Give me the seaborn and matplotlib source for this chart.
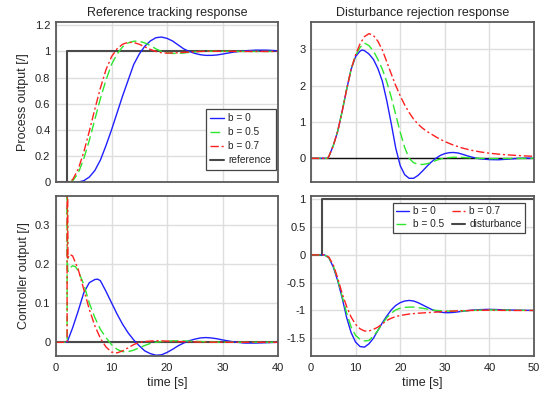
import numpy as np
import pandas as pd
import matplotlib
matplotlib.use("Agg")
import matplotlib.pyplot as plt
from matplotlib.ticker import MultipleLocator, FuncFormatter, AutoMinorLocator
import seaborn as sns

# ---------------- data ----------------
labels = ["b = 0", "b = 0.5", "b = 0.7"]

# Reference tracking: process output
rt_t_b0 = [0, 2, 3, 4, 5, 6, 7, 8, 9, 10, 11, 12, 13, 14, 15, 16, 17, 18, 19, 20, 21, 22, 23, 24,
           25, 26, 27, 28, 29, 30, 32, 34, 36, 38, 40]
rt_y_b0 = [0, 0, 0.0, 0.002, 0.012, 0.04, 0.09, 0.17, 0.28, 0.4, 0.53, 0.66, 0.78, 0.9, 0.98, 1.04,
           1.08, 1.105, 1.11, 1.1, 1.08, 1.05, 1.02, 1.0, 0.985, 0.975, 0.97, 0.97, 0.973, 0.98,
           0.995, 1.005, 1.01, 1.01, 1.005]
rt_t_b05 = [0, 2, 3, 4, 5, 6, 7, 8, 9, 10, 11, 12, 13, 14, 15, 16, 17, 18, 19, 20, 21, 22, 23, 24,
            26, 28, 30, 34, 40]
rt_y_b05 = [0, 0, 0.01, 0.07, 0.18, 0.32, 0.48, 0.64, 0.78, 0.9, 0.98, 1.035, 1.065, 1.078, 1.078,
            1.065, 1.045, 1.02, 1.0, 0.99, 0.985, 0.985, 0.988, 0.993, 1.0, 1.002, 1.001, 1.0, 1.0]
rt_t_b07 = [0, 2, 3, 4, 5, 6, 7, 8, 9, 10, 11, 12, 13, 14, 15, 16, 17, 18, 19, 20, 22, 24, 26, 28,
            30, 34, 40]
rt_y_b07 = [0, 0, 0.02, 0.1, 0.23, 0.39, 0.56, 0.72, 0.86, 0.96, 1.02, 1.055, 1.07, 1.068, 1.055,
            1.035, 1.015, 1.0, 0.99, 0.987, 0.99, 0.995, 1.0, 1.002, 1.001, 1.0, 1.0]
ref_t = [0, 2, 2, 40]
ref_y = [0, 0, 1, 1]

# Reference tracking: controller output
ru_t_b0 = [0, 2, 3, 4, 5, 6, 7, 7.5, 8, 9, 10, 11, 12, 13, 14, 15, 16, 17, 18, 19, 20, 21, 22, 23,
           24, 25, 26, 27, 28, 29, 30, 32, 34, 36, 38, 40]
ru_y_b0 = [0, 0, 0.037, 0.08, 0.126, 0.152, 0.16, 0.161, 0.157, 0.13, 0.101, 0.072, 0.046, 0.024,
           0.006, -0.009, -0.022, -0.029, -0.033, -0.032, -0.026, -0.018, -0.009, -0.002, 0.004,
           0.008, 0.011, 0.012, 0.011, 0.009, 0.006, 0.001, -0.002, -0.002, -0.001, 0.0]
ru_t_b05 = [0, 2, 2, 2.1, 2.5, 3, 3.5, 4, 5, 6, 7, 8, 9, 10, 11, 12, 13, 14, 15, 16, 17, 18, 19, 20,
            22, 24, 26, 30, 40]
ru_y_b05 = [0, 0, 0.6, 0.18, 0.19, 0.195, 0.193, 0.182, 0.148, 0.1, 0.063, 0.033, 0.012, -0.006,
            -0.018, -0.024, -0.024, -0.02, -0.014, -0.008, -0.003, 0.0, 0.002, 0.003, 0.004, 0.003,
            0.002, 0.0, 0.0]
ru_t_b07 = [0, 2, 2, 2.15, 2.5, 3, 4, 5, 6, 7, 8, 9, 10, 11, 12, 13, 14, 15, 16, 18, 20, 24, 30, 40]
ru_y_b07 = [0, 0, 0.8, 0.215, 0.224, 0.22, 0.186, 0.135, 0.084, 0.042, 0.01, -0.012, -0.025, -0.027,
            -0.022, -0.014, -0.006, 0.0, 0.002, 0.004, 0.003, 0.001, 0.0, 0.0]
zero_t_left = [0, 40]
zero_y_left = [0, 0]

# Disturbance rejection: process output
dy_t_b0 = [0, 3, 3.7, 4, 5, 6, 7, 8, 9, 10, 11, 11.5, 12, 13, 14, 15, 16, 17, 18, 19, 20, 21, 22,
           23, 24, 25, 26, 27, 28, 29, 30, 31, 32, 33, 34, 35, 36, 37, 38, 40, 42, 44, 46, 48, 50]
dy_y_b0 = [0, 0, 0, 0.05, 0.35, 0.75, 1.3, 1.9, 2.45, 2.8, 2.95, 2.98, 2.96, 2.87, 2.72, 2.47,
           2.12, 1.58, 0.95, 0.28, -0.2, -0.45, -0.55, -0.55, -0.47, -0.35, -0.22, -0.1, 0.0, 0.08,
           0.13, 0.155, 0.16, 0.145, 0.11, 0.07, 0.035, 0.005, -0.015, -0.035, -0.04, -0.025,
           -0.005, 0.005, 0.0]
dy_t_b05 = [0, 3, 3.7, 4, 5, 6, 7, 8, 9, 10, 11, 12, 13, 14, 15, 16, 17, 18, 19, 20, 21, 22, 23, 24,
            25, 26, 27, 28, 29, 30, 32, 34, 36, 38, 40, 44, 50]
dy_y_b05 = [0, 0, 0, 0.05, 0.35, 0.75, 1.3, 1.9, 2.45, 2.83, 3.05, 3.17, 3.1, 2.95, 2.72, 2.45, 2.1,
            1.68, 1.2, 0.72, 0.3, 0.0, -0.12, -0.165, -0.17, -0.15, -0.11, -0.06, -0.02, 0.01, 0.03,
            0.025, 0.01, 0.0, -0.01, -0.005, 0.0]
dy_t_b07 = [0, 3, 3.7, 4, 5, 6, 7, 8, 9, 10, 11, 12, 13, 14, 15, 16, 17, 18, 19, 20, 21, 22, 23, 24,
            25, 26, 28, 30, 32, 34, 36, 38, 40, 42, 44, 46, 48, 50]
dy_y_b07 = [0, 0, 0, 0.05, 0.35, 0.75, 1.3, 1.9, 2.45, 2.85, 3.15, 3.35, 3.43, 3.38, 3.22, 2.98,
            2.65, 2.32, 2.0, 1.72, 1.47, 1.26, 1.08, 0.94, 0.83, 0.74, 0.59, 0.46, 0.36, 0.28, 0.22,
            0.175, 0.14, 0.115, 0.095, 0.08, 0.065, 0.055]
zero_t_right = [0, 50]
zero_y_right = [0, 0]

# Disturbance rejection: controller output
du_t_b0 = [0, 3, 4, 5, 6, 7, 8, 9, 10, 11, 12, 13, 14, 15, 16, 17, 18, 19, 20, 21, 22, 23, 24, 25,
           26, 27, 28, 29, 30, 31, 32, 34, 36, 38, 40, 42, 44, 46, 50]
du_y_b0 = [0, 0, -0.05, -0.22, -0.47, -0.78, -1.13, -1.4, -1.57, -1.65, -1.66, -1.6, -1.5, -1.36,
           -1.22, -1.1, -0.99, -0.91, -0.86, -0.83, -0.82, -0.83, -0.86, -0.9, -0.94, -0.98, -1.01,
           -1.03, -1.04, -1.04, -1.035, -1.015, -0.995, -0.985, -0.98, -0.985, -0.99, -0.995, -1.0]
du_t_b05 = [0, 3, 4, 5, 6, 7, 8, 9, 10, 11, 12, 13, 14, 15, 16, 17, 18, 19, 20, 21, 22, 23, 24, 25,
            26, 27, 28, 30, 32, 34, 36, 40, 44, 50]
du_y_b05 = [0, 0, -0.05, -0.2, -0.45, -0.75, -1.05, -1.3, -1.45, -1.52, -1.55, -1.54, -1.46, -1.36,
            -1.24, -1.13, -1.05, -0.99, -0.96, -0.945, -0.94, -0.94, -0.95, -0.96, -0.975, -0.99,
            -1.0, -1.01, -1.015, -1.01, -1.0, -0.99, -0.995, -1.0]
du_t_b07 = [0, 3, 4, 5, 6, 7, 8, 9, 10, 11, 12, 13, 14, 15, 16, 17, 18, 19, 20, 22, 24, 26, 28, 30,
            32, 36, 40, 44, 50]
du_y_b07 = [0, 0, -0.04, -0.18, -0.42, -0.7, -0.93, -1.12, -1.25, -1.33, -1.37, -1.37, -1.34, -1.3,
            -1.24, -1.18, -1.14, -1.11, -1.09, -1.065, -1.05, -1.04, -1.03, -1.02, -1.01, -1.0,
            -0.995, -1.0, -1.0]
dist_t = [0, 2.5, 2.5, 50]
dist_y = [0, 0, 1, 1]

# ---------------- styling ----------------
sns.set_style("white")
plt.rcParams["font.family"] = ["Liberation Sans", "DejaVu Sans"]
plt.rcParams["axes.unicode_minus"] = False

colors = ["#1f1fff", "#2ee62e", "#ff2020"]
styles = ["-", (0, (7, 3)), (0, (6, 2, 1.5, 2))]
frame_col = "#5a5a5a"
ref_col = "#4a4a4a"

fig = plt.figure(figsize=(5.5, 3.96), dpi=100)
W, H = 550, 396
def box(l, r, t, b):
    return [l / W, 1 - b / H, (r - l) / W, (b - t) / H]

ax_tl = fig.add_axes(box(56, 278, 22, 182.3))
ax_tr = fig.add_axes(box(311, 534, 22, 182.3))
ax_bl = fig.add_axes(box(56, 278, 196, 356))
ax_br = fig.add_axes(box(311, 534, 196, 356))

def line(ax, t, y, color, ls, lw=1.0, label=None, z=2):
    df = pd.DataFrame({"t": t, "y": y})
    sns.lineplot(data=df, x="t", y="y", ax=ax, color=color, linestyle=ls, linewidth=lw,
                 estimator=None, sort=False, label=label, zorder=z)

# Top-left
line(ax_tl, ref_t, ref_y, ref_col, "-", 1.5, "reference", 1.5)
for t, y, c, s, lab in zip([rt_t_b0, rt_t_b05, rt_t_b07], [rt_y_b0, rt_y_b05, rt_y_b07],
                           colors, styles, labels):
    line(ax_tl, t, y, c, s, 1.0, lab)

# Top-right
line(ax_tr, zero_t_right, zero_y_right, "#111111", "-", 1.0, None, 1.5)
for t, y, c, s in zip([dy_t_b0, dy_t_b05, dy_t_b07], [dy_y_b0, dy_y_b05, dy_y_b07], colors, styles):
    line(ax_tr, t, y, c, s, 1.0)

# Bottom-left
line(ax_bl, zero_t_left, zero_y_left, ref_col, "-", 1.5, None, 1.5)
for t, y, c, s in zip([ru_t_b0, ru_t_b05, ru_t_b07], [ru_y_b0, ru_y_b05, ru_y_b07], colors, styles):
    line(ax_bl, t, y, c, s, 1.0)

# Bottom-right
line(ax_br, dist_t, dist_y, ref_col, "-", 1.5, "disturbance", 1.5)
for t, y, c, s, lab in zip([du_t_b0, du_t_b05, du_t_b07], [du_y_b0, du_y_b05, du_y_b07],
                           colors, styles, labels):
    line(ax_br, t, y, c, s, 1.0, lab)

fmt = FuncFormatter(lambda v, p: "{:g}".format(round(v, 6)))

settings = [
    (ax_tl, (0, 40), (0, 1.225), 0.2),
    (ax_tr, (0, 50), (-0.66, 3.75), 1),
    (ax_bl, (0, 40), (-0.035, 0.373), 0.1),
    (ax_br, (0, 50), (-1.82, 1.06), 0.5),
]
for ax, xl, yl, ystep in settings:
    ax.set_xlim(*xl)
    ax.set_ylim(*yl)
    ax.xaxis.set_major_locator(MultipleLocator(10))
    ax.yaxis.set_major_locator(MultipleLocator(ystep))
    ax.xaxis.set_minor_locator(AutoMinorLocator(5))
    ax.yaxis.set_minor_locator(AutoMinorLocator(5))
    ax.xaxis.set_major_formatter(fmt)
    ax.yaxis.set_major_formatter(fmt)
    ax.grid(True, which="major", color="#dedede", linewidth=1.0)
    ax.set_axisbelow(True)
    ax.tick_params(which="major", direction="in", length=4, width=0.8, color=frame_col,
                   labelsize=8, labelcolor="#222222", pad=4)
    ax.tick_params(axis="x", which="major", pad=5)
    ax.tick_params(which="minor", direction="in", length=2, width=0.6, color=frame_col)
    for sp in ax.spines.values():
        sp.set_color(frame_col)
        sp.set_linewidth(1.3)
    ax.set_xlabel("")
    ax.set_ylabel("")

ax_tl.tick_params(labelbottom=False)
ax_tr.tick_params(labelbottom=False)

ax_tl.set_title("Reference tracking response", fontsize=9, pad=4)
ax_tr.set_title("Disturbance rejection response", fontsize=9, pad=4)
ax_tl.set_ylabel("Process output [/]", fontsize=9, labelpad=4)
ax_bl.set_ylabel("Controller output [/]", fontsize=9, labelpad=4)
ax_bl.set_xlabel("time [s]", fontsize=9, labelpad=3)
ax_br.set_xlabel("time [s]", fontsize=9, labelpad=3)

# Legends
h, l = ax_tl.get_legend_handles_labels()
order = [l.index(x) for x in labels + ["reference"]]
leg = ax_tl.legend([h[i] for i in order], [l[i] for i in order], loc="lower right",
                   bbox_to_anchor=(0.99, 0.077), fontsize=7.3, frameon=True, fancybox=False,
                   framealpha=1, edgecolor="#444444", handlelength=1.35, handletextpad=0.45,
                   borderpad=0.45, labelspacing=0.4, borderaxespad=0)
leg.get_frame().set_linewidth(0.9)

h, l = ax_br.get_legend_handles_labels()
order = [l.index(x) for x in labels + ["disturbance"]]
leg2 = ax_br.legend([h[i] for i in order], [l[i] for i in order], loc="upper right",
                    bbox_to_anchor=(0.96, 0.958), ncol=2, fontsize=7.3, frameon=True,
                    fancybox=False, framealpha=1, edgecolor="#444444", handlelength=1.25,
                    handletextpad=0.4, borderpad=0.35, labelspacing=0.3, columnspacing=0.8,
                    borderaxespad=0)
leg2.get_frame().set_linewidth(0.9)

for ax in (ax_tr, ax_bl):
    lg = ax.get_legend()
    if lg is not None:
        lg.remove()

fig.savefig("out.png", dpi=100)
